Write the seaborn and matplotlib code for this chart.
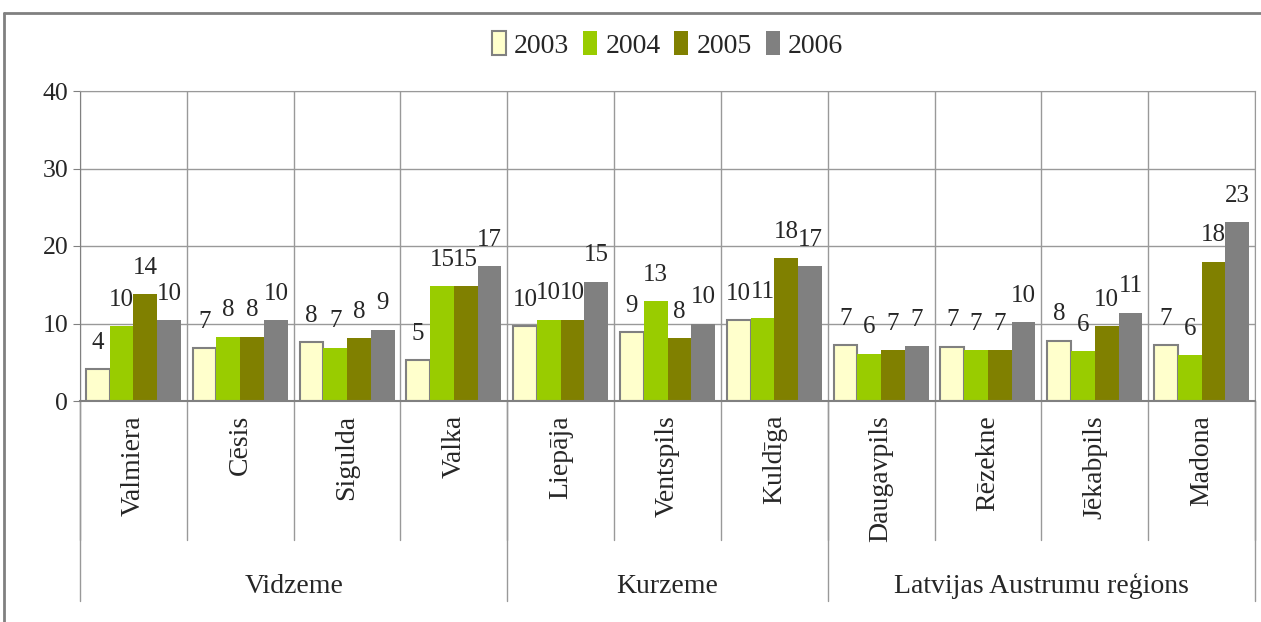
import pandas as pd
import seaborn as sns
import matplotlib.pyplot as plt
from matplotlib.lines import Line2D

## data
cities = ["Valmiera", "Cēsis", "Sigulda", "Valka", "Liepāja", "Ventspils",
          "Kuldīga", "Daugavpils", "Rēzekne", "Jēkabpils", "Madona"]
regions = ["Vidzeme", "Kurzeme", "Latvijas Austrumu reģions"]
region_sizes = [4, 3, 4]
years = ["2003", "2004", "2005", "2006"]
v2003 = [4.1, 6.8, 7.6, 5.3, 9.7, 8.9, 10.4, 7.2, 7.0, 7.8, 7.2]
v2004 = [9.7, 8.3, 6.9, 14.8, 10.5, 12.9, 10.7, 6.1, 6.6, 6.4, 5.9]
v2005 = [13.8, 8.3, 8.1, 14.8, 10.5, 8.1, 18.4, 6.6, 6.6, 9.7, 18.0]
v2006 = [10.4, 10.4, 9.2, 17.4, 15.4, 10.0, 17.4, 7.1, 10.2, 11.4, 23.1]
colors = ["#FFFFCC", "#99CC00", "#808000", "#808080"]

df = pd.DataFrame({
    "city": cities * 4,
    "year": sum([[y] * len(cities) for y in years], []),
    "value": v2003 + v2004 + v2005 + v2006,
})

sns.set_style("white")
plt.rcParams["font.family"] = ["Liberation Serif", "DejaVu Serif"]
fs = 20

fig = plt.figure(figsize=(12.61, 6.22), dpi=100)
ax = fig.add_axes([80 / 1261, 1 - 401 / 622, 1175 / 1261, 310 / 622])

sns.barplot(data=df, x="city", y="value", hue="year", order=cities,
            hue_order=years, palette=colors, saturation=1, width=0.89,
            legend=False, ax=ax, linewidth=0)

for bar in ax.containers[0]:
    bar.set_edgecolor("#808080")
    bar.set_linewidth(1.5)

for cont in ax.containers:
    ax.bar_label(cont, fmt="%.0f", padding=11, fontsize=18)

## axes / grid
ax.set_ylim(0, 40)
ax.set_yticks([0, 10, 20, 30, 40])
ax.set_xlim(-0.5, len(cities) - 0.5)
ax.yaxis.grid(True, color="#999999", linewidth=1)
for i in range(len(cities) + 1):
    ax.axvline(i - 0.5, color="#999999", linewidth=1, zorder=0)
ax.set_axisbelow(True)
for s in ax.spines.values():
    s.set_color("#999999")
ax.spines["left"].set_color("#808080")
ax.spines["bottom"].set_color("#808080")
ax.spines["bottom"].set_linewidth(1.5)
ax.tick_params(axis="y", length=5, color="#808080", labelsize=18.5, pad=3.5, left=True)
ax.set_xticks(range(len(cities)))
ax.set_xticklabels(cities, rotation=90, fontsize=fs)
ax.tick_params(axis="x", length=0, pad=10)
ax.set_xlabel("")
ax.set_ylabel("")

## category separators below the axis
trans = ax.get_xaxis_transform()
for i in range(len(cities) + 1):
    ax.plot([i - 0.5, i - 0.5], [0, -0.448], transform=trans, color="#999999",
            linewidth=1, clip_on=False)
start = 0
bounds = [0]
for name, n in zip(regions, region_sizes):
    ax.text(start + n / 2 - 0.5, -0.597, name, transform=trans, ha="center",
            va="center", fontsize=fs)
    start += n
    bounds.append(start)
for b in bounds:
    ax.plot([b - 0.5, b - 0.5], [0, -0.645], transform=trans, color="#999999",
            linewidth=1, clip_on=False)

## legend
ax.legend(ax.containers, years, loc="center", bbox_to_anchor=(0.5, 1 + 46 / 310),
          ncol=4, frameon=False, fontsize=fs, handlelength=0.5, handleheight=0.9,
          columnspacing=0.5, handletextpad=0.3)

## outer chart frame (top and left edges visible)
fig.add_artist(Line2D([4 / 1261, 4 / 1261], [0, 1 - 13 / 622], color="#808080", linewidth=2))
fig.add_artist(Line2D([4 / 1261, 1], [1 - 13 / 622, 1 - 13 / 622], color="#808080", linewidth=2))

fig.savefig("out.png", dpi=100)
